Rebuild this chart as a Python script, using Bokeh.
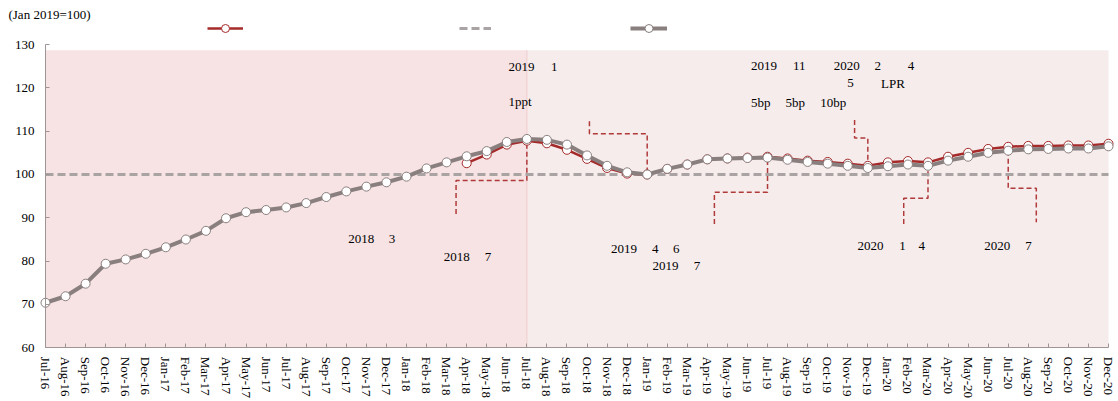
from bokeh.plotting import figure
from bokeh.models import Range1d, FixedTicker, Legend, LegendItem, Label, ColumnDataSource
from bokeh.core.properties import value
from bokeh.embed import file_html
from bokeh.resources import INLINE

# ---------------- data ----------------
months = ["Jul-16", "Aug-16", "Sep-16", "Oct-16", "Nov-16", "Dec-16",
          "Jan-17", "Feb-17", "Mar-17", "Apr-17", "May-17", "Jun-17",
          "Jul-17", "Aug-17", "Sep-17", "Oct-17", "Nov-17", "Dec-17",
          "Jan-18", "Feb-18", "Mar-18", "Apr-18", "May-18", "Jun-18",
          "Jul-18", "Aug-18", "Sep-18", "Oct-18", "Nov-18", "Dec-18",
          "Jan-19", "Feb-19", "Mar-19", "Apr-19", "May-19", "Jun-19",
          "Jul-19", "Aug-19", "Sep-19", "Oct-19", "Nov-19", "Dec-19",
          "Jan-20", "Feb-20", "Mar-20", "Apr-20", "May-20", "Jun-20",
          "Jul-20", "Aug-20", "Sep-20", "Oct-20", "Nov-20", "Dec-20"]

gray_series = [70.4, 71.9, 74.8, 79.4, 80.4, 81.7,
               83.2, 85.0, 87.0, 89.9, 91.3, 91.8,
               92.4, 93.4, 94.8, 96.1, 97.2, 98.2,
               99.5, 101.4, 102.8, 104.2, 105.4, 107.5,
               108.2, 108.0, 106.9, 104.4, 102.0, 100.5,
               100.0, 101.3, 102.3, 103.5, 103.7, 103.8,
               103.9, 103.4, 102.9, 102.5, 102.0, 101.5,
               101.9, 102.3, 102.0, 103.2, 104.1, 105.0,
               105.5, 105.8, 105.9, 106.0, 106.0, 106.5]

red_start = "Apr-18"
red_series = [102.6, 104.6, 106.9,
              107.8, 107.2, 105.7, 103.6, 101.5, 100.2,
              100.0, 101.3, 102.3, 103.5, 103.7, 103.9,
              104.1, 103.7, 103.2, 102.9, 102.5, 102.0,
              102.8, 103.1, 102.8, 104.1, 105.0, 105.9,
              106.4, 106.6, 106.6, 106.7, 106.7, 107.1]

base_level = 100

# shaded periods (month labels) and their top
shade_from = ["Jul-16", "Jul-18"]
shade_to = ["Jul-18", "Dec-20"]
shade_top = [128.7, 128.7]
shade_colors = ["#f7e3e3", "#f6ecec"]

# dashed annotation leaders: x in month index units, y in index units
leader_xs = [[20.47, 20.47, 24.0, 24.0],
             [27.12, 27.12, 30.0, 30.0],
             [33.35, 33.35, 36.0, 36.0],
             [40.34, 40.34, 41.0, 41.0],
             [42.79, 42.79, 44.0, 44.0],
             [48.0, 48.0, 49.4, 49.4]]
leader_ys = [[90.9, 98.6, 98.6, 107.5],
             [112.3, 109.4, 109.4, 100.2],
             [88.6, 95.9, 95.9, 103.9],
             [112.6, 108.4, 108.4, 101.7],
             [88.6, 94.5, 94.5, 102.0],
             [105.5, 96.8, 96.8, 89.0]]

# annotation text fragments
ann_text = ["2019", "1", "1ppt",
            "2019", "11", "2020", "2", "4",
            "5", "LPR",
            "5bp", "5bp", "10bp",
            "2018", "3", "2018", "7",
            "2019", "4", "6", "2019", "7",
            "2020", "1", "4", "2020", "7"]
ann_x = [23.09, 25.21, 23.09,
         35.18, 37.27, 39.30, 41.33, 42.99,
         39.97, 41.66,
         35.18, 36.89, 38.63,
         15.09, 17.11, 19.86, 21.90,
         28.20, 30.24, 31.29, 30.27, 32.32,
         40.49, 42.57, 43.53, 46.81, 48.85]
ann_y = [124.9, 124.9, 116.85,
         125.15, 125.15, 125.15, 125.15, 125.15,
         121.07, 121.07,
         116.69, 116.69, 116.69,
         85.16, 85.16, 81.07, 81.07,
         82.85, 82.85, 82.85, 78.84, 78.84,
         83.45, 83.45, 83.45, 83.61, 83.61]

y_ticks = [60, 70, 80, 90, 100, 110, 120, 130]
unit_label = "(Jan 2019=100)"
unit_label_pos = (-1.845, 136.9)

# ---------------- plot ----------------
FONT = "Liberation Serif"
GRAY = "#8a7f7f"
RED = "#a52a2a"
W, H = 1118, 401
X_PAD_L, X_PAD_R = 2.243, 0.4985   # month units of white space beside the axis range
Y_MIN, Y_MAX = 47.61, 140.155      # frame covers the whole canvas; axes sit at fixed locations

idx = list(range(len(months)))
r0 = months.index(red_start)
red_idx = idx[r0:r0 + len(red_series)]

p = figure(width=W, height=H, output_backend="svg", toolbar_location=None,
           x_range=Range1d(-X_PAD_L, len(months) - 1 + X_PAD_R), y_range=Range1d(Y_MIN, Y_MAX),
           min_border_left=0, min_border_right=0, min_border_top=0, min_border_bottom=0)
p.background_fill_color = "white"
p.border_fill_color = "white"
p.outline_line_color = None
p.grid.visible = False

# shading
p.quad(left=[months.index(m) for m in shade_from], right=[months.index(m) for m in shade_to],
       bottom=[y_ticks[0]] * 2, top=shade_top, fill_color=shade_colors, line_color=None)
p.segment(x0=[months.index(shade_to[0])], x1=[months.index(shade_to[0])],
          y0=[y_ticks[0]], y1=[shade_top[0]], line_color="#f0cccc", line_width=1)

# leaders
p.multi_line(xs=leader_xs, ys=leader_ys, line_color="#b03a3a", line_width=1.5, line_dash="5 3")

# base line
r_base = p.line(idx, [base_level] * len(idx), line_color="#aaa3a3", line_width=3, line_dash="8 4")

# red series
r_red_l = p.line(red_idx, red_series, line_color=RED, line_width=2.5)
r_red_m = p.scatter(red_idx, red_series, size=9, marker="circle", fill_color="white",
                    line_color=RED, line_width=1)

# gray series
r_gray_l = p.line(idx, gray_series, line_color=GRAY, line_width=4)
r_gray_m = p.scatter(idx, gray_series, size=9, marker="circle", fill_color="white",
                     line_color=GRAY, line_width=1)

# annotation texts
src = ColumnDataSource(dict(x=ann_x, y=ann_y, t=ann_text))
p.text(x="x", y="y", text="t", source=src, text_font=value(FONT), text_font_size="13px",
       text_color="black", text_baseline="middle", text_align="left")

# axes
for ax in (p.xaxis[0], p.yaxis[0]):
    ax.axis_line_color = "#a09595"
    ax.axis_line_width = 1
    ax.major_tick_line_color = "#a09595"
    ax.major_tick_in = 4
    ax.major_tick_out = 0
    ax.minor_tick_line_color = None
    ax.major_label_text_font = FONT
    ax.major_label_text_font_size = "13px"
    ax.major_label_text_color = "black"

p.xaxis.ticker = FixedTicker(ticks=idx)
p.xaxis.major_label_overrides = {i: m for i, m in enumerate(months)}
p.xaxis.major_label_orientation = "vertical"
p.xaxis.major_label_standoff = 9
p.xaxis.bounds = (0, len(months) - 1)
p.xaxis.fixed_location = y_ticks[0]

p.yaxis.ticker = FixedTicker(ticks=y_ticks)
p.yaxis.major_label_standoff = 11
p.yaxis.bounds = (y_ticks[0], y_ticks[-1])
p.yaxis.fixed_location = 0

# unit label
p.add_layout(Label(x=unit_label_pos[0], y=unit_label_pos[1], text=unit_label,
                   text_font=FONT, text_font_size="13px", text_baseline="middle",
                   text_align="left", text_color="black"))

# legends (series names are not legible in the reference)
def add_leg(renderers, xloc, gw):
    leg = Legend(items=[LegendItem(label=value(""), renderers=renderers)],
                 location=(xloc, 363), orientation="horizontal", glyph_width=gw, glyph_height=20,
                 label_height=20, label_width=0, label_standoff=0, padding=0, margin=0,
                 border_line_alpha=0, background_fill_alpha=0, label_text_font_size="1px")
    p.add_layout(leg)

add_leg([r_red_l, r_red_m], 207, 36)
add_leg([r_base], 459, 32)
add_leg([r_gray_l, r_gray_m], 630, 37)

open("out.html", "w").write(file_html(p, INLINE))
